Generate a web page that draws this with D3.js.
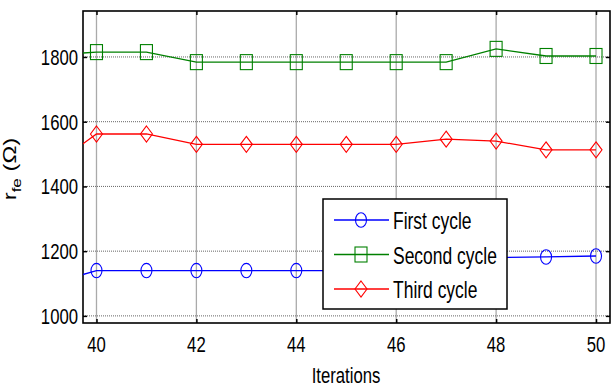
<!DOCTYPE html>
<html><head><meta charset="utf-8">
<script src="https://cdn.jsdelivr.net/npm/d3@7"></script>
<style>body{margin:0;background:#fff}svg{display:block}text{font-family:"Liberation Sans",Arial,sans-serif;fill:#000}</style>
</head><body><svg id="c" width="614" height="387"></svg>
<script>
const iterations = [39,40,41,42,43,44,45,46,47,48,49,50];
const firstCycle  = [1095,1140,1140,1140,1140,1140,1140,1160,1170,1180,1182,1185];
const secondCycle = [1805,1815,1815,1784,1784,1784,1784,1784,1784,1825,1803,1803];
const thirdCycle  = [1450,1562,1562,1530,1530,1530,1530,1530,1546,1540,1513,1513];
const xTicks = [40,42,44,46,48,50];
const yTicks = [1000,1200,1400,1600,1800];
const seriesNames = ["First cycle","Second cycle","Third cycle"];
const seriesColors = ["#0000ff","#008000","#ff0000"];
const seriesMarkers = ["circle","square","diamond"];

const svg = d3.select("#c");
const L=83,R=610,T=11,B=323, SX=0.76;
const x = d3.scaleLinear().domain([39.73,50.28]).range([L,R]);
const y = d3.scaleLinear().domain([978,1942]).range([B,T]);

svg.append("defs").append("clipPath").attr("id","clip")
  .append("rect").attr("x",L).attr("y",T).attr("width",R-L).attr("height",B-T);

// grid
const g = svg.append("g");
g.selectAll(".vg").data(xTicks).join("line")
  .attr("x1",d=>x(d)).attr("x2",d=>x(d)).attr("y1",T).attr("y2",B)
  .attr("stroke","#aaa").attr("stroke-width",1.3);
g.selectAll(".hg").data(yTicks).join("line")
  .attr("x1",L).attr("x2",R).attr("y1",d=>y(d)).attr("y2",d=>y(d))
  .attr("stroke","#666").attr("stroke-width",1).attr("stroke-dasharray","1,1");

// axes via d3
const tickLen = -4;
svg.append("g").attr("transform",`translate(0,${B})`)
  .call(d3.axisBottom(x).tickValues(xTicks).tickSize(tickLen).tickFormat(""))
  .call(a=>a.select(".domain").remove());
svg.append("g").attr("transform",`translate(0,${T})`)
  .call(d3.axisTop(x).tickValues(xTicks).tickSize(tickLen).tickFormat(""))
  .call(a=>a.select(".domain").remove());
svg.append("g").attr("transform",`translate(${L},0)`)
  .call(d3.axisLeft(y).tickValues(yTicks).tickSize(tickLen).tickFormat(""))
  .call(a=>a.select(".domain").remove());
svg.append("g").attr("transform",`translate(${R},0)`)
  .call(d3.axisRight(y).tickValues(yTicks).tickSize(tickLen).tickFormat(""))
  .call(a=>a.select(".domain").remove());
svg.selectAll(".tick line").attr("stroke","#000").attr("stroke-width",1.5);

svg.append("rect").attr("x",L).attr("y",T).attr("width",R-L).attr("height",B-T)
  .attr("fill","none").attr("stroke","#000").attr("stroke-width",1.6);

// tick labels
xTicks.forEach(t=>{
  svg.append("text").attr("transform",`translate(${x(t)},352) scale(${SX},1)`)
    .attr("text-anchor","middle").attr("font-size",22).text(t);
});
yTicks.forEach(t=>{
  svg.append("text").attr("transform",`translate(78,${y(t)+8}) scale(${SX},1)`)
    .attr("text-anchor","end").attr("font-size",22).text(t);
});
svg.append("text").attr("transform",`translate(346,383) scale(${SX},1)`)
  .attr("text-anchor","middle").attr("font-size",22).text("Iterations");
const yl = svg.append("text").attr("transform",`translate(16,169) scale(${SX},1) rotate(-90)`)
  .attr("text-anchor","middle").attr("font-size",24);
yl.append("tspan").text("r");
yl.append("tspan").attr("font-size",17).attr("dy",6).text("fe");
yl.append("tspan").attr("dy",-6).text(" (\u03A9)");

function marker(sel, type, color){
  if(type==="circle") sel.append("ellipse").attr("rx",5.5).attr("ry",7.2);
  else if(type==="square") sel.append("rect").attr("x",-6).attr("y",-7.5).attr("width",12).attr("height",15);
  else sel.append("path").attr("d","M0,-8L6,0L0,8L-6,0Z");
  sel.selectAll("*").attr("fill","none").attr("stroke",color).attr("stroke-width",1.1);
}

const series = [firstCycle, secondCycle, thirdCycle];
const line = d3.line().x((d,i)=>x(iterations[i])).y(d=>y(d));
const plot = svg.append("g").attr("clip-path","url(#clip)");
series.forEach((s,k)=>{
  plot.append("path").datum(s).attr("d",line).attr("fill","none")
    .attr("stroke",seriesColors[k]).attr("stroke-width",1.3);
  s.forEach((v,i)=>{
    if(iterations[i] < 40) return;
    const m = plot.append("g").attr("transform",`translate(${x(iterations[i])},${y(v)})`);
    marker(m, seriesMarkers[k], seriesColors[k]);
  });
});

// legend
const lg = svg.append("g");
lg.append("rect").attr("x",323).attr("y",199).attr("width",184).attr("height",110)
  .attr("fill","#fff").attr("stroke","#000").attr("stroke-width",1.5);
seriesNames.forEach((n,k)=>{
  const cy = 220 + k*34.5;
  lg.append("line").attr("x1",334).attr("x2",389).attr("y1",cy).attr("y2",cy)
    .attr("stroke",seriesColors[k]).attr("stroke-width",1.3);
  const m = lg.append("g").attr("transform",`translate(361,${cy})`);
  marker(m, seriesMarkers[k], seriesColors[k]);
  lg.append("text").attr("transform",`translate(393,${cy+9}) scale(${SX},1)`)
    .attr("font-size",23).text(n);
});
</script></body></html>
